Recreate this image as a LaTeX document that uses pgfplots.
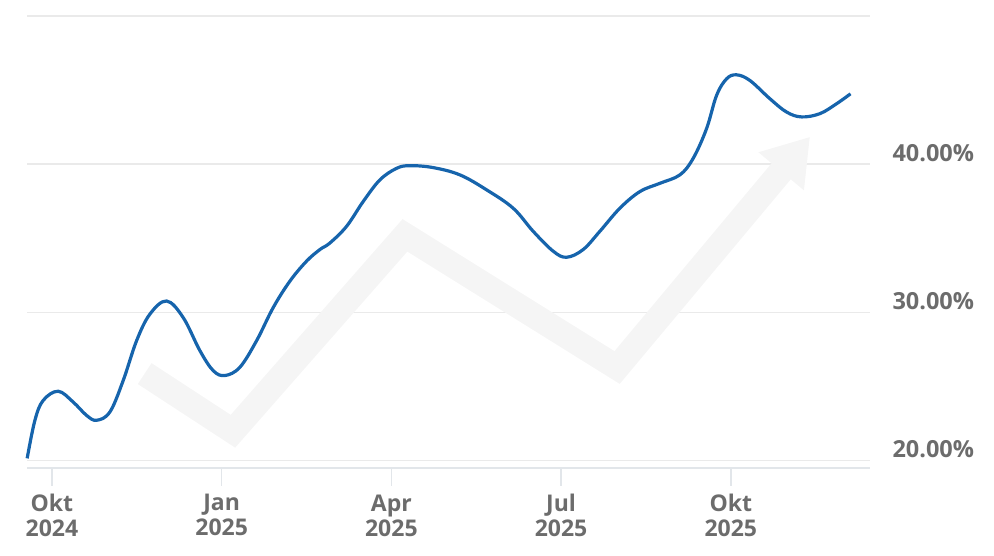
\documentclass[border=0pt]{standalone}
\usepackage{pgfplots}
\pgfplotsset{compat=1.18}
\usetikzlibrary{arrows.meta}
\usepackage{fontspec}
\setmainfont{Open Sans}
\definecolor{lineblue}{RGB}{22,100,172}
\definecolor{txtgray}{RGB}{108,108,108}
\definecolor{gridgray}{RGB}{234,234,234}
\definecolor{axisgray}{RGB}{226,230,234}
\definecolor{arrowgray}{RGB}{245,245,245}
\begin{document}
\begin{tikzpicture}
\useasboundingbox (-27bp,-88bp) rectangle (967bp,468bp);
\begin{axis}[
  scale only axis,
  width=843bp, height=452bp,
  xmin=-0.44, xmax=14.46,
  ymin=19.5, ymax=50,
  axis x line=bottom,
  axis y line=right,
  x axis line style={draw=axisgray, line width=1.5bp, -},
  y axis line style={draw=none},
  xtick={0,3,6,9,12},
  xticklabels={Okt\\2024,Jan\\2025,Apr\\2025,Jul\\2025,Okt\\2025},
  x tick label style={align=center, font=\fontsize{23bp}{25bp}\selectfont\bfseries, text=txtgray, yshift=-5bp},
  xtick style={draw=axisgray, line width=1.5bp},
  tick align=outside,
  major tick length=18bp,
  ytick={20,30,40,50},
  yticklabels={20.00\%,30.00\%,40.00\%,},
  y tick label style={font=\fontsize{23.5bp}{25bp}\selectfont\bfseries, text=txtgray, anchor=west, xshift=1bp, yshift=11bp},
  ytick style={draw=none},
  ymajorgrids,
  grid style={draw=gridgray, line width=1.5bp},
  clip=false,
]
\addplot[arrowgray, line width=25bp, line join=miter, -{Triangle[width=56bp,length=45bp]}] coordinates {
  (1.64,25.87) (3.20,21.98) (6.24,35.20) (9.99,26.28) (13.40,41.85)
};
\addplot[lineblue, line width=3.2bp, smooth, tension=0.6] coordinates {
  (-0.437,20.15) (-0.300,22.72) (-0.154,24.06) (0.111,24.68) (0.376,23.95)
  (0.613,23.05) (0.790,22.72) (1.025,23.28) (1.260,25.40) (1.497,28.09)
  (1.732,29.88) (2.027,30.77) (2.321,29.65) (2.616,27.42) (2.851,26.07)
  (3.058,25.74) (3.323,26.30) (3.618,28.09) (3.911,30.32) (4.207,32.11)
  (4.502,33.46) (4.737,34.24) (4.913,34.68) (5.209,35.81) (5.502,37.48)
  (5.797,38.94) (6.092,39.72) (6.327,39.90) (6.739,39.77) (7.211,39.28)
  (7.683,38.27) (8.153,37.03) (8.507,35.47) (8.860,34.13) (9.097,33.72)
  (9.390,34.24) (9.685,35.47) (10.039,37.03) (10.392,38.15) (10.746,38.71)
  (11.100,39.28) (11.334,40.39) (11.571,42.40) (11.748,44.64) (11.925,45.76)
  (12.101,46.03) (12.337,45.65) (12.690,44.42) (12.985,43.52) (13.250,43.19)
  (13.574,43.41) (13.869,44.08) (14.116,44.75)
};
\end{axis}
\end{tikzpicture}
\end{document}
